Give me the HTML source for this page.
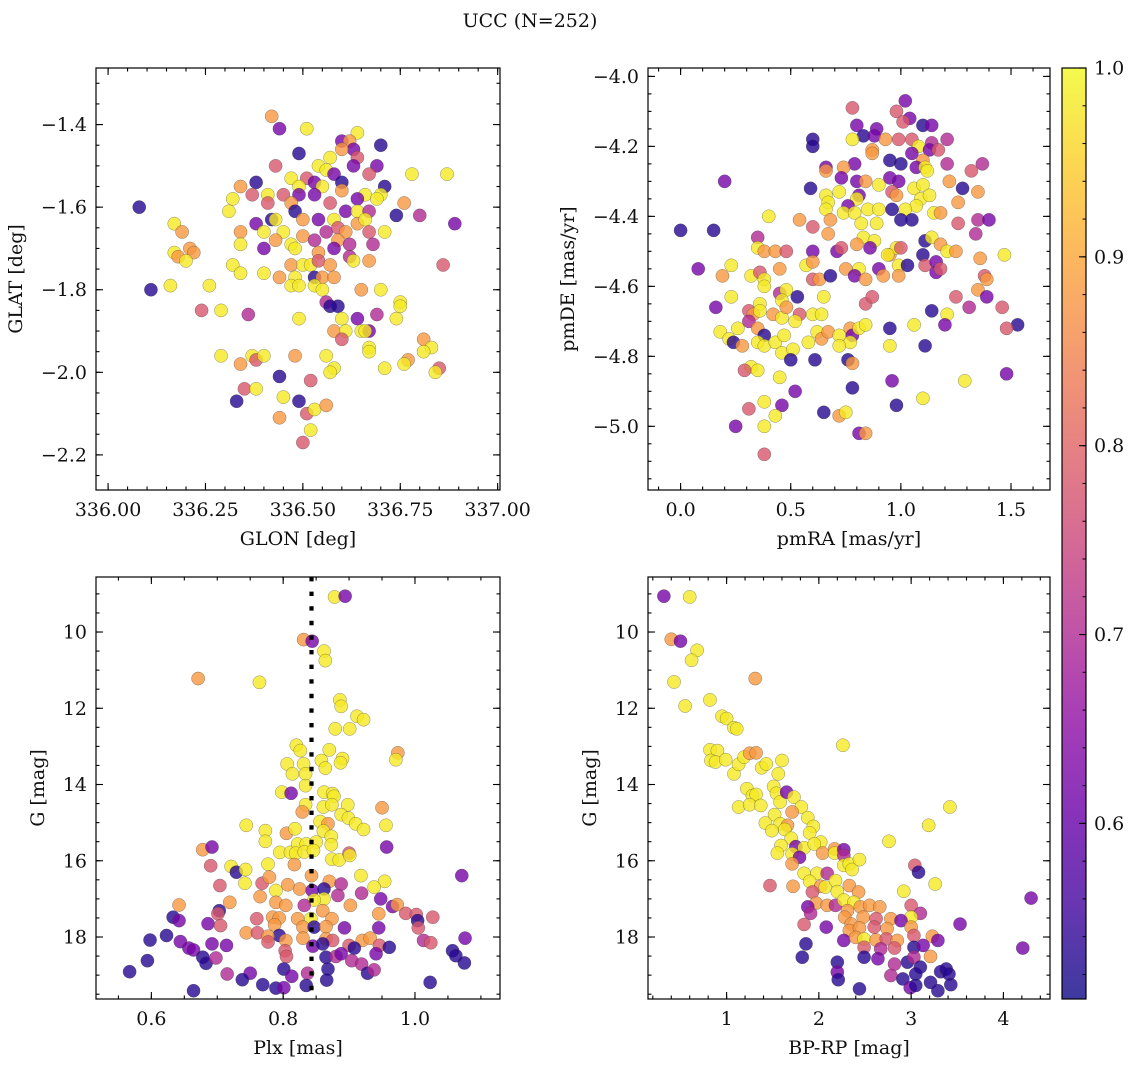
<!DOCTYPE html>
<html>
<head>
<meta charset="utf-8">
<style>
html,body{margin:0;padding:0;background:#fff;}
svg{display:block;}
text{font-family:"DejaVu Serif","Liberation Serif",serif;fill:#111;}
</style>
</head>
<body>
<svg id="fig" width="1136" height="1067" viewBox="0 0 1136 1067" xmlns="http://www.w3.org/2000/svg">
<defs>
<linearGradient id="plasmaGrad" x1="0" y1="1" x2="0" y2="0">
<stop offset="0" stop-color="#0d0887"/><stop offset="0.1" stop-color="#41049d"/><stop offset="0.2" stop-color="#6a00a8"/><stop offset="0.3" stop-color="#8f0da4"/><stop offset="0.4" stop-color="#b12a90"/><stop offset="0.5" stop-color="#cc4778"/><stop offset="0.6" stop-color="#e16462"/><stop offset="0.7" stop-color="#f2844b"/><stop offset="0.8" stop-color="#fca636"/><stop offset="0.9" stop-color="#fcce25"/><stop offset="1" stop-color="#f0f921"/>
</linearGradient>
</defs>
<text x="530" y="27" text-anchor="middle" font-size="19">UCC (N=252)</text>
</svg>
<script>
// ---------- Panel 1: GLON vs GLAT ----------
const glon1 = [336.42,336.44,336.51,336.64,336.70,336.60,336.62,336.63,336.60,336.49,336.57,336.64,336.54,336.43,336.63,336.69,336.56,336.67,336.78,336.87,336.34,336.38,336.47,336.51,336.53,336.58,336.60,336.71,336.49,336.55,336.37,336.41,336.45,336.49,336.53,336.60,336.66,336.70,336.69,336.64,336.32,336.31,336.08,336.41,336.47,336.48,336.57,336.61,336.64,336.67,336.76,336.74,336.80,336.89,336.17,336.42,336.43,336.50,336.54,336.58,336.64,336.66,336.38,336.19,336.34,336.40,336.45,336.56,336.59,336.61,336.67,336.71,336.43,336.50,336.53,336.59,336.62,336.68,336.34,336.47,336.17,336.21,336.22,336.40,336.48,336.54,336.58,336.62,336.18,336.20,336.32,336.47,336.50,336.52,336.54,336.57,336.63,336.67,336.86,336.34,336.40,336.44,336.48,336.53,336.55,336.58,336.16,336.11,336.26,336.47,336.49,336.53,336.55,336.65,336.70,336.56,336.57,336.59,336.24,336.29,336.36,336.69,336.75,336.75,336.74,336.49,336.60,336.64,336.58,336.61,336.65,336.67,336.66,336.60,336.81,336.67,336.67,336.83,336.81,336.29,336.37,336.38,336.40,336.48,336.56,336.77,336.76,336.34,336.58,336.71,336.85,336.84,336.57,336.44,336.52,336.35,336.38,336.45,336.49,336.33,336.51,336.53,336.56,336.44,336.52,336.50];
const glat1 = [-1.38,-1.41,-1.41,-1.42,-1.45,-1.44,-1.44,-1.46,-1.46,-1.47,-1.48,-1.48,-1.50,-1.50,-1.50,-1.50,-1.51,-1.52,-1.52,-1.52,-1.55,-1.54,-1.53,-1.53,-1.54,-1.52,-1.54,-1.55,-1.55,-1.55,-1.57,-1.57,-1.57,-1.57,-1.57,-1.56,-1.57,-1.57,-1.58,-1.58,-1.58,-1.61,-1.60,-1.59,-1.59,-1.61,-1.59,-1.61,-1.61,-1.61,-1.59,-1.62,-1.62,-1.64,-1.64,-1.63,-1.63,-1.63,-1.63,-1.63,-1.64,-1.63,-1.64,-1.66,-1.66,-1.66,-1.66,-1.66,-1.65,-1.66,-1.66,-1.66,-1.68,-1.67,-1.68,-1.68,-1.69,-1.69,-1.69,-1.69,-1.71,-1.70,-1.71,-1.70,-1.70,-1.71,-1.70,-1.72,-1.72,-1.73,-1.74,-1.74,-1.74,-1.74,-1.73,-1.74,-1.73,-1.73,-1.74,-1.76,-1.76,-1.77,-1.77,-1.77,-1.77,-1.77,-1.79,-1.80,-1.79,-1.79,-1.79,-1.79,-1.80,-1.80,-1.80,-1.83,-1.84,-1.84,-1.85,-1.85,-1.86,-1.86,-1.83,-1.84,-1.87,-1.87,-1.87,-1.87,-1.90,-1.90,-1.90,-1.90,-1.90,-1.92,-1.92,-1.94,-1.95,-1.94,-1.95,-1.96,-1.96,-1.97,-1.96,-1.96,-1.96,-1.97,-1.98,-1.98,-1.99,-1.99,-1.99,-2.00,-2.00,-2.01,-2.02,-2.04,-2.04,-2.06,-2.07,-2.07,-2.10,-2.09,-2.08,-2.11,-2.14,-2.17];
const prob1 = [.88,.62,.98,.98,.53,.62,.88,.62,.88,.53,.98,.78,.98,.78,.62,.62,.98,.78,.98,.98,.88,.53,.98,.78,.62,.62,.53,.53,.98,.98,.78,.98,.78,.62,.62,.88,.98,.98,.98,.62,.98,.98,.53,.78,.88,.53,.78,.62,.98,.70,.88,.53,.70,.62,.98,.53,.98,.88,.62,.98,.88,.98,.62,.88,.88,.98,.98,.70,.78,.88,.78,.98,.88,.88,.70,.88,.70,.70,.98,.98,.98,.88,.88,.62,.98,.88,.62,.70,.88,.98,.98,.88,.98,.98,.78,.88,.98,.88,.78,.98,.98,.88,.98,.53,.88,.88,.98,.53,.98,.98,.98,.98,.98,.88,.98,.70,.53,.53,.78,.98,.70,.70,.98,.98,.98,.98,.98,.62,.88,.98,.98,.62,.98,.78,.88,.98,.98,.98,.98,.98,.98,.78,.98,.88,.98,.88,.98,.88,.98,.98,.78,.98,.98,.53,.78,.78,.98,.98,.53,.53,.78,.98,.88,.88,.98,.78];
const xTicks1 = [336.00,336.25,336.50,336.75,337.00];
const xTickLabels1 = ["336.00","336.25","336.50","336.75","337.00"];
const yTicks1 = [-2.2,-2.0,-1.8,-1.6,-1.4];
const yTickLabels1 = ["\u22122.2","\u22122.0","\u22121.8","\u22121.6","\u22121.4"];

// ---------- Panel 2: pmRA vs pmDE ----------
const pmra2 = [1.02,0.78,0.98,1.04,1.01,0.80,0.89,1.10,1.14,0.83,0.88,0.78,0.93,0.99,1.05,1.14,1.21,0.60,0.60,1.08,1.13,1.17,0.87,0.87,0.95,1.05,1.10,1.00,0.79,0.74,0.66,0.66,1.07,1.11,1.12,1.21,1.32,1.37,0.20,0.73,0.80,0.84,0.95,0.99,1.22,0.59,0.66,0.72,0.81,0.80,0.90,0.96,0.98,1.06,1.10,1.09,1.13,1.28,1.35,0.67,0.66,0.76,1.26,1.07,1.02,0.40,0.74,0.79,0.85,0.90,0.96,1.15,1.18,0.54,0.68,0.82,0.89,1.00,1.05,1.26,1.35,1.40,0.00,0.15,0.60,0.67,1.34,0.35,0.83,0.88,0.35,0.38,0.43,0.48,0.60,0.71,0.73,0.80,0.86,0.95,0.98,1.00,1.11,1.14,1.18,1.21,1.25,1.47,0.08,0.23,0.19,0.32,0.36,0.38,0.45,0.57,0.60,0.60,0.63,0.68,0.75,0.81,0.79,0.84,0.90,0.92,0.94,0.99,0.99,1.03,1.10,1.11,1.16,1.16,1.18,1.36,1.38,1.39,0.38,0.23,0.45,0.48,0.46,0.53,0.65,0.84,0.87,1.25,1.35,1.39,0.16,0.31,0.36,0.33,0.36,0.42,0.46,0.48,0.54,0.52,0.60,0.64,1.14,1.31,1.46,1.21,1.20,1.53,1.48,0.18,0.26,0.31,0.35,0.22,0.24,0.28,0.38,0.35,0.38,0.43,0.46,0.47,0.51,0.58,0.62,0.64,0.67,0.72,0.77,0.78,0.77,0.72,0.81,0.84,0.95,1.06,0.95,1.11,0.50,0.61,0.76,0.78,0.32,0.35,0.29,0.45,0.96,1.48,1.29,0.78,0.52,1.10,0.98,0.38,0.46,0.31,0.43,0.65,0.72,0.75,0.25,0.38,0.81,0.84,0.38];
const pmde2 = [-4.07,-4.09,-4.10,-4.12,-4.13,-4.14,-4.15,-4.14,-4.14,-4.17,-4.17,-4.18,-4.18,-4.18,-4.18,-4.19,-4.18,-4.18,-4.20,-4.20,-4.21,-4.21,-4.21,-4.22,-4.24,-4.22,-4.24,-4.25,-4.25,-4.26,-4.26,-4.27,-4.26,-4.26,-4.27,-4.25,-4.27,-4.25,-4.30,-4.29,-4.30,-4.30,-4.29,-4.30,-4.30,-4.32,-4.34,-4.33,-4.34,-4.35,-4.31,-4.33,-4.34,-4.32,-4.31,-4.35,-4.34,-4.32,-4.33,-4.36,-4.38,-4.37,-4.36,-4.37,-4.38,-4.40,-4.39,-4.39,-4.38,-4.38,-4.38,-4.39,-4.39,-4.41,-4.41,-4.42,-4.42,-4.41,-4.41,-4.42,-4.41,-4.41,-4.44,-4.44,-4.43,-4.45,-4.45,-4.46,-4.46,-4.47,-4.49,-4.50,-4.50,-4.50,-4.50,-4.50,-4.49,-4.48,-4.49,-4.51,-4.49,-4.49,-4.47,-4.46,-4.48,-4.50,-4.50,-4.51,-4.55,-4.54,-4.57,-4.57,-4.56,-4.58,-4.55,-4.54,-4.53,-4.58,-4.58,-4.57,-4.55,-4.55,-4.57,-4.58,-4.55,-4.57,-4.51,-4.54,-4.57,-4.54,-4.51,-4.54,-4.53,-4.56,-4.55,-4.52,-4.57,-4.58,-4.60,-4.63,-4.62,-4.61,-4.64,-4.63,-4.63,-4.65,-4.63,-4.63,-4.61,-4.63,-4.66,-4.67,-4.65,-4.68,-4.67,-4.68,-4.69,-4.66,-4.68,-4.70,-4.68,-4.68,-4.67,-4.66,-4.66,-4.68,-4.71,-4.71,-4.72,-4.73,-4.72,-4.70,-4.72,-4.75,-4.76,-4.77,-4.74,-4.76,-4.77,-4.76,-4.79,-4.74,-4.78,-4.76,-4.73,-4.75,-4.73,-4.74,-4.72,-4.74,-4.76,-4.77,-4.72,-4.71,-4.72,-4.71,-4.77,-4.77,-4.81,-4.81,-4.81,-4.82,-4.83,-4.84,-4.84,-4.86,-4.87,-4.85,-4.87,-4.89,-4.90,-4.92,-4.94,-4.93,-4.94,-4.95,-4.97,-4.96,-4.97,-4.96,-5.00,-5.00,-5.02,-5.02,-5.08];
const prob2 = [.62,.78,.78,.62,.78,.62,.62,.53,.62,.53,.62,.98,.88,.78,.78,.70,.70,.53,.53,.98,.62,.78,.88,.88,.53,.62,.88,.53,.62,.88,.62,.88,.62,.98,.98,.70,.78,.70,.62,.62,.62,.88,.62,.62,.88,.53,.98,.98,.62,.98,.98,.78,.88,.98,.98,.98,.98,.53,.88,.98,.98,.62,.88,.98,.98,.98,.98,.98,.98,.98,.53,.98,.88,.88,.88,.98,.98,.53,.53,.78,.70,.62,.53,.53,.78,.88,.70,.70,.98,.98,.98,.88,.88,.78,.62,.62,.78,.88,.62,.88,.98,.78,.53,.98,.88,.98,.88,.98,.62,.98,.88,.98,.78,.98,.88,.98,.88,.78,.88,.53,.88,.98,.62,.88,.62,.88,.98,.98,.88,.53,.53,.78,.62,.62,.78,.88,.78,.88,.98,.98,.70,.98,.98,.53,.98,.78,.78,.78,.88,.62,.62,.78,.98,.88,.98,.88,.98,.88,.78,.98,.98,.98,.53,.70,.78,.98,.62,.53,.78,.98,.98,.70,.88,.98,.53,.88,.53,.98,.98,.98,.98,.98,.98,.98,.98,.88,.88,.98,.88,.62,.98,.98,.98,.98,.53,.98,.98,.53,.53,.53,.53,.88,.98,.98,.78,.98,.62,.62,.98,.53,.62,.98,.53,.98,.62,.78,.98,.53,.88,.98,.62,.98,.62,.88,.78];
const xTicks2 = [0,0.5,1.0,1.5];
const xTickLabels2 = ["0.0","0.5","1.0","1.5"];
const yTicks2 = [-5.0,-4.8,-4.6,-4.4,-4.2,-4.0];
const yTickLabels2 = ["\u22125.0","\u22124.8","\u22124.6","\u22124.4","\u22124.2","\u22124.0"];

// ---------- Panel 3: Plx vs G ----------
const plx3 = [.878,.894,.831,.844,.862,.864,.671,.764,.886,.888,.912,.922,.879,.901,.820,.826,.870,.974,.971,.806,.831,.858,.890,.887,.814,.834,.864,.834,.798,.812,.862,.875,.877,.834,.861,.874,.898,.950,.829,.888,.899,.910,.922,.856,.868,.744,.773,.773,.805,.818,.861,.873,.956,.850,.873,.678,.692,.957,.795,.811,.822,.835,.819,.832,.846,.874,.885,.900,.901,.690,.721,.729,.743,.777,.817,1.071,.742,.704,.768,.779,.843,.870,.888,.918,.954,.938,.825,.844,.862,.789,.807,.765,.719,.862,.847,.883,.919,.948,.642,.789,.804,.832,.902,.966,.973,.703,.701,.860,.945,.986,1.002,.633,.642,.760,.784,.794,.822,.842,.874,1.027,1.004,.686,.705,.787,.830,.847,.865,.893,.945,1.005,.744,.761,.794,.777,.804,.830,.865,.875,.920,.932,.598,.623,.644,1.076,1.013,1.024,.692,.714,.657,.664,.777,.803,.845,.860,.900,.908,.946,.961,1.057,.805,.865,.880,.888,.904,.941,1.062,.594,.678,.683,.698,1.075,.919,.868,.801,.837,.928,.938,.567,.715,.750,.813,.738,.769,.789,.801,.835,.866,1.023,.664];
const gmag3 = [9.08,9.06,10.20,10.24,10.50,10.75,11.22,11.32,11.78,11.95,12.21,12.30,12.54,12.54,12.97,13.11,13.09,13.17,13.35,13.46,13.46,13.37,13.32,13.43,13.72,13.72,13.57,14.03,14.20,14.23,14.20,14.24,14.31,14.53,14.59,14.53,14.53,14.61,14.72,14.79,14.88,15.03,15.18,14.97,15.03,15.07,15.21,15.49,15.28,15.16,15.22,15.36,15.07,15.51,15.58,15.71,15.64,15.64,15.78,15.78,15.56,15.56,15.80,15.77,15.73,15.96,15.98,15.80,15.86,16.13,16.15,16.30,16.23,16.09,16.10,16.39,16.59,16.65,16.59,16.43,16.39,16.54,16.61,16.39,16.54,16.69,16.74,16.78,16.74,16.78,16.63,16.94,17.09,17.00,17.03,16.91,16.85,17.00,17.16,17.09,17.17,17.17,17.17,17.20,17.15,17.31,17.39,17.31,17.39,17.38,17.41,17.48,17.57,17.52,17.48,17.50,17.52,17.52,17.52,17.48,17.57,17.65,17.70,17.68,17.74,17.74,17.73,17.76,17.76,17.76,17.89,17.89,17.96,17.98,18.09,18.03,18.05,18.09,18.09,18.03,18.08,17.96,18.12,18.03,18.09,18.15,18.18,18.22,18.29,18.34,18.13,18.36,18.24,18.18,18.22,18.29,18.22,18.27,18.36,18.51,18.53,18.51,18.44,18.62,18.44,18.49,18.62,18.53,18.69,18.55,18.68,18.71,18.84,18.84,18.95,18.95,18.86,18.91,18.97,18.95,19.03,19.12,19.25,19.34,19.33,19.27,19.13,19.19,19.41];
const prob3 = [.98,.62,.88,.62,.98,.98,.88,.98,.98,.98,.98,.98,.98,.98,.98,.98,.98,.88,.98,.98,.98,.98,.98,.98,.98,.98,.98,.98,.98,.62,.98,.98,.98,.98,.98,.98,.98,.88,.88,.98,.98,.98,.98,.98,.88,.98,.98,.98,.88,.98,.98,.98,.98,.98,.98,.88,.62,.62,.98,.98,.98,.98,.98,.98,.98,.98,.98,.78,.98,.78,.98,.53,.98,.98,.88,.62,.98,.78,.78,.88,.88,.88,.70,.98,.98,.98,.88,.62,.53,.98,.88,.88,.88,.98,.98,.70,.70,.62,.88,.88,.88,.70,.88,.62,.88,.53,.78,.88,.88,.78,.78,.53,.62,.78,.88,.88,.88,.98,.88,.78,.53,.62,.78,.88,.88,.53,.88,.62,.62,.78,.88,.78,.53,.88,.88,.88,.88,.78,.88,.88,.53,.53,.62,.62,.70,.78,.62,.62,.62,.62,.78,.78,.62,.53,.78,.53,.78,.53,.53,.78,.53,.70,.62,.70,.62,.53,.53,.53,.53,.70,.53,.70,.53,.53,.70,.53,.70,.53,.70,.62,.62,.53,.53,.53,.62,.53,.53,.53,.53];
const plxRef3 = [0.843];
const xTicks3 = [0.6,0.8,1.0];
const xTickLabels3 = ["0.6","0.8","1.0"];
const yTicks3 = [10,12,14,16,18];
const yTickLabels3 = ["10","12","14","16","18"];

// ---------- Panel 4: BP-RP vs G ----------
const bprp4 = [0.32,0.60,0.40,0.50,0.68,0.62,1.31,0.43,0.55,0.82,0.95,1.00,1.08,1.11,2.26,0.82,0.90,0.83,0.88,0.99,1.08,1.13,1.19,1.25,1.32,1.38,1.43,1.60,1.56,1.22,1.28,1.32,1.13,1.25,1.37,1.51,1.54,1.58,1.65,1.73,1.81,1.71,3.42,1.52,1.42,1.58,1.66,1.49,1.63,1.88,1.94,1.90,1.70,3.19,1.59,1.55,1.75,1.84,2.02,1.95,1.71,1.79,2.04,2.17,2.17,2.27,2.76,2.27,2.27,2.33,2.36,2.44,1.71,3.04,3.08,1.84,1.98,2.09,1.90,1.47,1.72,2.02,2.07,2.18,2.33,2.20,1.93,2.43,2.92,3.26,4.30,1.97,2.09,2.18,2.27,2.38,1.88,1.91,2.31,2.45,2.55,2.66,3.00,3.10,3.53,1.84,2.08,2.28,2.35,2.48,2.62,2.78,3.00,2.89,2.33,2.44,2.60,2.74,3.00,2.27,2.40,2.49,2.62,2.73,2.85,3.03,3.23,3.29,1.86,4.21,2.49,2.67,2.82,3.03,3.13,3.21,1.82,2.49,2.64,2.82,2.96,3.03,3.10,2.20,2.20,2.21,2.78,2.91,3.05,3.21,3.32,3.38,3.41,3.43,3.29,2.44,2.99,3.05];
const gmag4 = [9.06,9.08,10.19,10.24,10.48,10.74,11.22,11.31,11.94,11.78,12.21,12.27,12.51,12.54,12.97,13.09,13.11,13.37,13.41,13.35,13.72,13.47,13.28,13.18,13.17,13.56,13.46,13.37,13.72,14.11,14.29,14.26,14.59,14.53,14.55,14.05,14.23,14.46,14.20,14.33,14.59,14.72,14.59,14.79,15.01,15.03,15.07,15.21,15.18,14.87,15.10,15.27,15.41,15.07,15.60,15.80,15.63,15.66,15.51,15.56,15.82,15.91,15.80,15.69,15.80,15.71,15.49,15.86,16.12,16.08,16.23,15.97,16.08,16.12,16.30,16.33,16.33,16.33,16.54,16.65,16.67,16.67,16.69,16.52,16.65,16.81,16.82,16.82,16.80,16.61,16.98,17.11,17.17,17.17,17.03,17.09,17.21,17.38,17.31,17.21,17.17,17.21,17.17,17.38,17.66,17.67,17.74,17.48,17.66,17.48,17.52,17.52,17.48,17.57,17.83,17.76,17.74,17.78,17.74,18.09,18.01,18.05,18.08,18.05,18.09,17.96,17.98,18.09,18.18,18.29,18.27,18.31,18.29,18.27,18.22,18.51,18.53,18.53,18.57,18.71,18.66,18.53,18.79,18.66,18.92,19.12,19.01,19.10,18.97,19.19,18.91,18.84,18.97,19.25,19.41,19.36,19.33,19.27];
const prob4 = [.62,.98,.88,.62,.98,.98,.88,.98,.98,.98,.98,.98,.98,.98,.98,.98,.98,.98,.98,.98,.98,.98,.98,.88,.88,.98,.98,.98,.98,.98,.98,.98,.98,.98,.98,.98,.98,.98,.62,.98,.98,.88,.98,.98,.98,.98,.88,.98,.98,.98,.98,.98,.98,.98,.98,.98,.62,.98,.98,.98,.98,.62,.88,.88,.98,.62,.98,.70,.98,.98,.98,.98,.88,.78,.53,.98,.98,.70,.98,.78,.88,.88,.98,.98,.88,.98,.78,.88,.98,.98,.62,.88,.88,.70,.98,.98,.62,.70,.88,.88,.88,.88,.78,.70,.62,.78,.62,.88,.88,.88,.78,.88,.98,.62,.88,.88,.78,.88,.88,.62,.88,.98,.88,.78,.88,.78,.88,.62,.53,.62,.78,.70,.78,.53,.62,.88,.53,.53,.62,.70,.53,.70,.53,.53,.62,.53,.70,.53,.53,.53,.53,.53,.53,.53,.53,.53,.62,.53];
const xTicks4 = [1,2,3,4];
const xTickLabels4 = ["1","2","3","4"];
const yTicks4 = [10,12,14,16,18];
const yTickLabels4 = ["10","12","14","16","18"];

// ---------- Colorbar ----------
const cbTicks = [0.6,0.7,0.8,0.9,1.0];
const cbTickLabels = ["0.6","0.7","0.8","0.9","1.0"];
const vMin = 0.507, vMax = 1.0;

const FS = 19;
const NS = "http://www.w3.org/2000/svg";
const svg = document.getElementById('fig');
const plasma = [[0,[13,8,135]],[0.1,[65,4,157]],[0.2,[106,0,168]],[0.3,[143,13,164]],[0.4,[177,42,144]],[0.5,[204,71,120]],[0.6,[225,100,98]],[0.7,[242,132,75]],[0.8,[252,166,54]],[0.9,[252,206,37]],[1,[240,249,33]]];
function cmap(v){
  let t = (v - vMin)/(vMax - vMin); t = Math.max(0, Math.min(1, t));
  for (let i=1;i<plasma.length;i++){
    if (t <= plasma[i][0]){
      const a = plasma[i-1], b = plasma[i], f = (t-a[0])/(b[0]-a[0]);
      const c = a[1].map((x,k)=>Math.round(x + (b[1][k]-x)*f));
      return 'rgb('+c.join(',')+')';
    }
  }
  return 'rgb(240,249,33)';
}
function mk(tag, attrs, parent){
  const e = document.createElementNS(NS, tag);
  for (const k in attrs) e.setAttribute(k, attrs[k]);
  (parent||svg).appendChild(e);
  return e;
}
function makeAxis(cfg){
  const g = mk('g', {});
  
  
  const sx = v => cfg.x0 + (v - cfg.xmin)/(cfg.xmax - cfg.xmin)*(cfg.x1 - cfg.x0);
  const sy = cfg.yInvert
    ? v => cfg.y0 + (v - cfg.ymin)/(cfg.ymax - cfg.ymin)*(cfg.y1 - cfg.y0)
    : v => cfg.y1 - (v - cfg.ymin)/(cfg.ymax - cfg.ymin)*(cfg.y1 - cfg.y0);
  return {g, sx, sy, cfg};
}
function drawFrameAndTicks(ax, xT, xL, yT, yL, xMinor, yMinor, xTitle, yTitle, yTitleX){
  const {g, sx, sy, cfg} = ax;
  const tg = mk('g', {stroke:'#000','stroke-width':1.1}, g);
  
  
  const eps = 1e-9;
  let start = Math.ceil(cfg.xmin / xMinor) * xMinor;
  for (let v = start; v <= cfg.xmax + eps; v += xMinor){
    const x = sx(v); if (x < cfg.x0+0.5 || x > cfg.x1-0.5) continue;
    mk('line',{x1:x,x2:x,y1:cfg.y1,y2:cfg.y1-3.5},tg);
    mk('line',{x1:x,x2:x,y1:cfg.y0,y2:cfg.y0+3.5},tg);
  }
  const ylo = Math.min(cfg.ymin,cfg.ymax), yhi = Math.max(cfg.ymin,cfg.ymax);
  start = Math.ceil(ylo / yMinor) * yMinor;
  for (let v = start; v <= yhi + eps; v += yMinor){
    const y = sy(v); if (y < cfg.y0+0.5 || y > cfg.y1-0.5) continue;
    mk('line',{x1:cfg.x0,x2:cfg.x0+3.5,y1:y,y2:y},tg);
    mk('line',{x1:cfg.x1,x2:cfg.x1-3.5,y1:y,y2:y},tg);
  }
  xT.forEach((v,i)=>{
    const x = sx(v);
    mk('line',{x1:x,x2:x,y1:cfg.y1,y2:cfg.y1-7},tg);
    mk('line',{x1:x,x2:x,y1:cfg.y0,y2:cfg.y0+7},tg);
    const t = mk('text',{x:x,y:cfg.y1+26,'text-anchor':'middle','font-size':FS},g);
    
    
    t.textContent = xL[i];
  });
  yT.forEach((v,i)=>{
    const y = sy(v);
    mk('line',{x1:cfg.x0,x2:cfg.x0+7,y1:y,y2:y},tg);
    mk('line',{x1:cfg.x1,x2:cfg.x1-7,y1:y,y2:y},tg);
    const t = mk('text',{x:cfg.x0-9,y:y+6.5,'text-anchor':'end','font-size':FS},g);
    
    
    t.textContent = yL[i];
  });
  const fr = mk('rect',{x:cfg.x0,y:cfg.y0,width:cfg.x1-cfg.x0,height:cfg.y1-cfg.y0,fill:'none',stroke:'#000','stroke-width':1.2},g);
  
  
  const xt = mk('text',{x:(cfg.x0+cfg.x1)/2,y:cfg.y1+55,'text-anchor':'middle','font-size':FS},g);
  
  
  xt.textContent = xTitle;
  const cy = (cfg.y0+cfg.y1)/2;
  const yt = mk('text',{x:yTitleX,y:cy,'text-anchor':'middle','font-size':FS,transform:'rotate(-90 '+yTitleX+' '+cy+')'},g);
  
  
  yt.textContent = yTitle;
}
function scatter(ax, xs, ys, ps){
  const {g, sx, sy, cfg} = ax;
  const cg = mk('g', {}, g);
  
  
  const n = Math.min(xs.length, ys.length, ps.length);
  for (let i=0;i<n;i++){
    const c = mk('circle',{cx:sx(xs[i]),cy:sy(ys[i]),r:6.6,fill:cmap(ps[i]),'fill-opacity':0.8,stroke:'#3a3a3a','stroke-opacity':0.55,'stroke-width':0.5},cg);
    
    
  }
}

const ax1 = makeAxis({name:'glon-glat-panel',x0:96,x1:500,y0:68,y1:490,xmin:335.969,xmax:337.006,ymin:-2.285,ymax:-1.263});
scatter(ax1, glon1, glat1, prob1);
drawFrameAndTicks(ax1, xTicks1, xTickLabels1, yTicks1, yTickLabels1, 0.05, 0.05, 'GLON [deg]', 'GLAT [deg]', 22);

const ax2 = makeAxis({name:'pm-panel',x0:648,x1:1050,y0:68,y1:490,xmin:-0.148,xmax:1.677,ymin:-5.182,ymax:-3.976});
scatter(ax2, pmra2, pmde2, prob2);
drawFrameAndTicks(ax2, xTicks2, xTickLabels2, yTicks2, yTickLabels2, 0.1, 0.05, 'pmRA [mas/yr]', 'pmDE [mas/yr]', 574);

const ax3 = makeAxis({name:'plx-g-panel',x0:96,x1:500,y0:577,y1:999,xmin:0.516,xmax:1.129,ymin:8.557,ymax:19.626,yInvert:true});
scatter(ax3, plx3, gmag3, prob3);
plxRef3.forEach(v=>{
  const l = mk('line',{x1:ax3.sx(v),x2:ax3.sx(v),y1:577,y2:999,stroke:'#000','stroke-width':4.2,'stroke-dasharray':'4.4 10.2'},ax3.g);
  
  
});
drawFrameAndTicks(ax3, xTicks3, xTickLabels3, yTicks3, yTickLabels3, 0.05, 0.5, 'Plx [mas]', 'G [mag]', 44);

const ax4 = makeAxis({name:'cmd-panel',x0:648,x1:1050,y0:577,y1:999,xmin:0.148,xmax:4.505,ymin:8.557,ymax:19.626,yInvert:true});
scatter(ax4, bprp4, gmag4, prob4);
drawFrameAndTicks(ax4, xTicks4, xTickLabels4, yTicks4, yTickLabels4, 0.2, 0.5, 'BP-RP [mag]', 'G [mag]', 596);

// colorbar
const cb = mk('g', {});


const cbx0 = 1062, cbx1 = 1086, cby0 = 68, cby1 = 999;
const cbY = v => cby1 - (v - vMin)/(vMax - vMin)*(cby1 - cby0);
const cbr = mk('rect',{x:cbx0,y:cby0,width:cbx1-cbx0,height:cby1-cby0,fill:'url(#plasmaGrad)','fill-opacity':0.8},cb);


for (let v = 0.52; v <= vMax + 1e-9; v += 0.02){
  const y = cbY(v);
  mk('line',{x1:cbx1,x2:cbx1-3.5,y1:y,y2:y,stroke:'#000','stroke-width':1},cb);
}
cbTicks.forEach((v,i)=>{
  const y = cbY(v);
  mk('line',{x1:cbx1,x2:cbx1-7,y1:y,y2:y,stroke:'#000','stroke-width':1.1},cb);
  const t = mk('text',{x:1094,y:y+6.5,'font-size':FS},cb);
  
  
  t.textContent = cbTickLabels[i];
});
const cbf = mk('rect',{x:cbx0,y:cby0,width:cbx1-cbx0,height:cby1-cby0,fill:'none',stroke:'#000','stroke-width':1.2},cb);


</script>
</body>
</html>
